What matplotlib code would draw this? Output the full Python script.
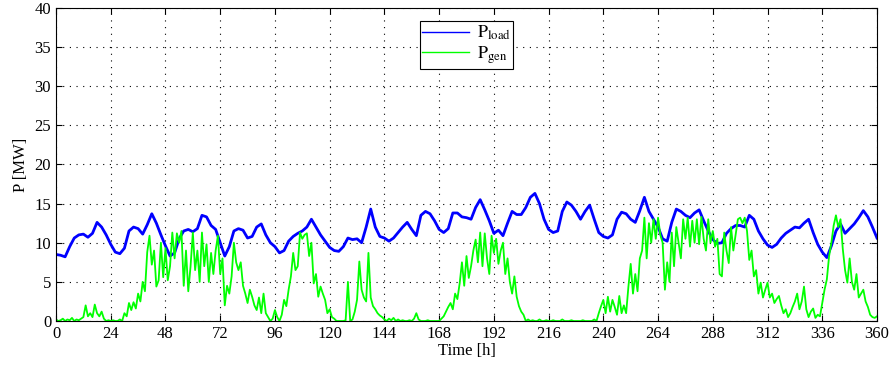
import matplotlib
matplotlib.use("Agg")
import matplotlib.pyplot as plt
import numpy as np

# load, sampled every 2 h
load_hours = np.arange(0, 361, 2)
p_load = [
    8.5, 8.4, 8.2, 9.5, 10.6, 11.0, 11.1, 10.7, 11.2, 12.6, 12.0, 11.0,
    9.8, 8.8, 8.6, 9.3, 11.5, 12.0, 11.8, 11.1, 12.3, 13.7, 12.5, 11.0,
    9.6, 8.3, 8.7, 10.5, 11.5, 11.7, 11.4, 11.8, 13.5, 13.3, 12.2, 11.7,
    10.0, 8.3, 9.5, 11.5, 11.8, 11.6, 10.6, 10.8, 12.0, 12.4, 11.0, 10.0,
    9.5, 8.7, 9.0, 10.2, 10.8, 11.2, 11.5, 12.0, 13.0, 12.0, 11.0, 10.2,
    9.4, 9.0, 8.9, 9.5, 10.6, 10.4, 10.5, 10.0, 12.0, 14.3, 12.0, 10.8,
    10.6, 10.2, 10.6, 11.3, 12.0, 12.6, 11.7, 10.9, 13.5, 14.0, 13.7, 12.8,
    11.7, 11.3, 11.8, 13.8, 13.8, 13.3, 13.2, 13.0, 14.5, 15.5, 14.2, 12.8,
    11.2, 11.6, 10.9, 12.5, 14.0, 13.6, 13.6, 14.5, 15.8, 16.3, 15.0, 13.0,
    11.7, 11.3, 11.5, 14.0, 15.2, 14.8, 14.0, 13.0, 14.0, 14.8, 13.0, 11.3,
    10.8, 10.6, 11.0, 13.0, 13.9, 13.7, 13.0, 12.6, 14.1, 15.8, 14.0, 13.0,
    12.0, 10.5, 10.2, 12.6, 14.3, 14.0, 13.5, 13.2, 13.8, 14.2, 12.8, 11.5,
    10.4, 9.9, 10.0, 11.2, 11.8, 12.2, 12.2, 12.0, 13.5, 13.0, 11.5, 10.5,
    9.7, 9.4, 9.8, 10.6, 11.2, 11.6, 12.0, 11.9, 12.5, 13.0, 11.3, 9.8,
    8.8, 8.1, 9.6, 11.5, 12.4, 11.2, 11.8, 12.4, 13.2, 14.1, 13.3, 12.0,
    10.6,
]

# generation, sampled every hour
gen_hours = np.arange(0, 361)
p_gen = [
    0.2, 0.0, 0.1, 0.3, 0.0, 0.2, 0.1, 0.4, 0.0, 0.2, 0.1, 0.3,
    0.5, 2.0, 0.6, 1.0, 0.5, 2.1, 1.0, 0.6, 1.2, 0.3, 0.0, 0.1,
    0.0, 0.1, 0.0, 0.0, 0.2, 0.0, 1.0, 0.6, 2.3, 1.4, 2.4, 1.6,
    3.5, 2.5, 5.0, 3.8, 8.8, 10.9, 7.2, 9.0, 4.4, 5.2, 10.0, 5.6,
    9.3, 5.2, 7.0, 11.3, 8.0, 11.2, 10.0, 11.5, 4.5, 9.0, 3.8, 7.0,
    11.3, 6.5, 9.0, 5.0, 11.3, 7.0, 9.8, 5.0, 8.7, 6.0, 9.0, 10.9,
    6.0, 8.0, 2.0, 4.5, 3.5, 5.7, 10.0, 7.5, 6.5, 7.5, 4.5, 3.5,
    2.3, 4.0, 3.1, 2.0, 1.4, 3.0, 1.0, 3.5, 1.0, 0.5, 0.0, 0.3,
    1.4, 0.5, 0.0, 0.8, 2.7, 1.9, 4.0, 5.7, 8.7, 6.5, 7.0, 11.3,
    10.5, 11.0, 11.2, 8.3, 10.0, 4.8, 6.0, 3.1, 4.4, 3.5, 2.7, 1.0,
    1.5, 0.5, 0.3, 0.0, 0.0, 0.0, 0.0, 0.1, 5.0, 0.0, 0.2, 1.2,
    2.7, 7.6, 4.0, 3.0, 2.5, 8.7, 3.0, 1.9, 1.5, 1.0, 0.7, 0.5,
    0.2, 0.0, 0.3, 0.1, 0.4, 0.0, 0.2, 0.0, 0.1, 0.0, 0.0, 0.1,
    0.0, 0.3, 1.0, 0.2, 0.0, 0.0, 0.0, 0.1, 0.0, 0.0, 0.0, 0.0,
    0.0, 0.3, 0.6, 1.2, 1.8, 2.3, 1.5, 3.5, 2.8, 4.8, 7.5, 4.5,
    8.3, 5.5, 7.0, 9.0, 10.4, 7.5, 11.3, 7.0, 11.2, 8.0, 6.0, 10.9,
    8.7, 10.5, 7.3, 9.0, 10.0, 6.0, 8.0, 5.0, 3.5, 5.7, 3.1, 1.9,
    1.2, 0.8, 0.0, 0.2, 0.0, 0.1, 0.0, 0.0, 0.2, 0.0, 0.0, 0.1,
    0.0, 0.0, 0.1, 0.0, 0.0, 0.0, 0.2, 0.0, 0.0, 0.0, 0.1, 0.0,
    0.0, 0.0, 0.0, 0.1, 0.0, 0.0, 0.0, 0.0, 0.2, 0.0, 1.0, 1.9,
    2.7, 1.0, 3.1, 1.2, 2.7, 1.8, 0.8, 3.2, 1.0, 2.0, 1.0, 4.4,
    7.3, 3.5, 6.0, 3.8, 8.0, 9.0, 13.2, 8.0, 12.5, 10.0, 13.0, 10.5,
    13.2, 11.0, 10.0, 4.0, 7.5, 5.0, 11.3, 7.0, 12.0, 10.0, 8.0, 13.0,
    10.5, 13.2, 9.5, 12.8, 10.0, 13.0, 9.8, 13.3, 10.5, 9.0, 13.0, 10.0,
    11.5, 9.5, 10.5, 6.0, 5.7, 11.3, 9.0, 7.4, 12.0, 9.0, 11.0, 13.0,
    13.2, 12.5, 13.2, 11.5, 7.8, 9.0, 5.7, 6.5, 3.5, 4.9, 3.0, 4.0,
    4.9, 3.0, 3.5, 2.3, 2.8, 3.2, 2.0, 1.0, 1.5, 0.5, 1.0, 1.8,
    2.5, 3.5, 1.5, 2.5, 4.4, 1.5, 0.5, 1.2, 1.6, 0.4, 0.8, 0.6,
    2.3, 4.0, 5.3, 8.3, 10.0, 12.2, 13.5, 12.0, 13.0, 9.2, 6.5, 4.9,
    8.0, 5.0, 4.0, 6.0, 3.0, 3.5, 4.0, 2.5, 1.8, 0.8, 0.5, 0.4,
    0.6,
]

x_ticks = np.arange(0, 361, 24)
y_ticks = np.arange(0, 41, 5)

plt.rcParams['font.family'] = ['Liberation Serif', 'DejaVu Serif']
plt.rcParams['mathtext.fontset'] = 'stix'

fig = plt.figure(figsize=(8.89, 3.65), dpi=100)
ax = fig.add_axes([0.063, 0.1205, 0.9235, 0.858])

ax.plot(load_hours, p_load, color='#0000ff', linewidth=2.0,
        label=r'$\mathrm{P}_{\mathrm{load}}$')
ax.plot(gen_hours, p_gen, color='#00ff00', linewidth=1.3,
        label=r'$\mathrm{P}_{\mathrm{gen}}$')

ax.set_xlim(0, 360)
ax.set_ylim(0, 40)
ax.set_xticks(x_ticks)
ax.set_yticks(y_ticks)
ax.tick_params(direction='in', top=True, right=True, labelsize=12,
               length=4, width=0.8)
ax.grid(True, linestyle=(0, (1, 5)), color='black', linewidth=0.8)
for s in ax.spines.values():
    s.set_linewidth(0.8)

ax.set_xlabel('Time [h]', fontsize=12, labelpad=1)
ax.set_ylabel('P [MW]', fontsize=12, labelpad=4)

leg = ax.legend(loc='upper center', bbox_to_anchor=(0.5, 0.957),
                borderaxespad=0, fontsize=13, fancybox=False,
                framealpha=1, edgecolor='black', handlelength=2.6,
                handletextpad=0.4, borderpad=0.15, labelspacing=0.1)
leg.get_frame().set_linewidth(0.8)
for h in leg.get_lines():
    h.set_linewidth(1.0)

fig.savefig('out.png', dpi=100)
